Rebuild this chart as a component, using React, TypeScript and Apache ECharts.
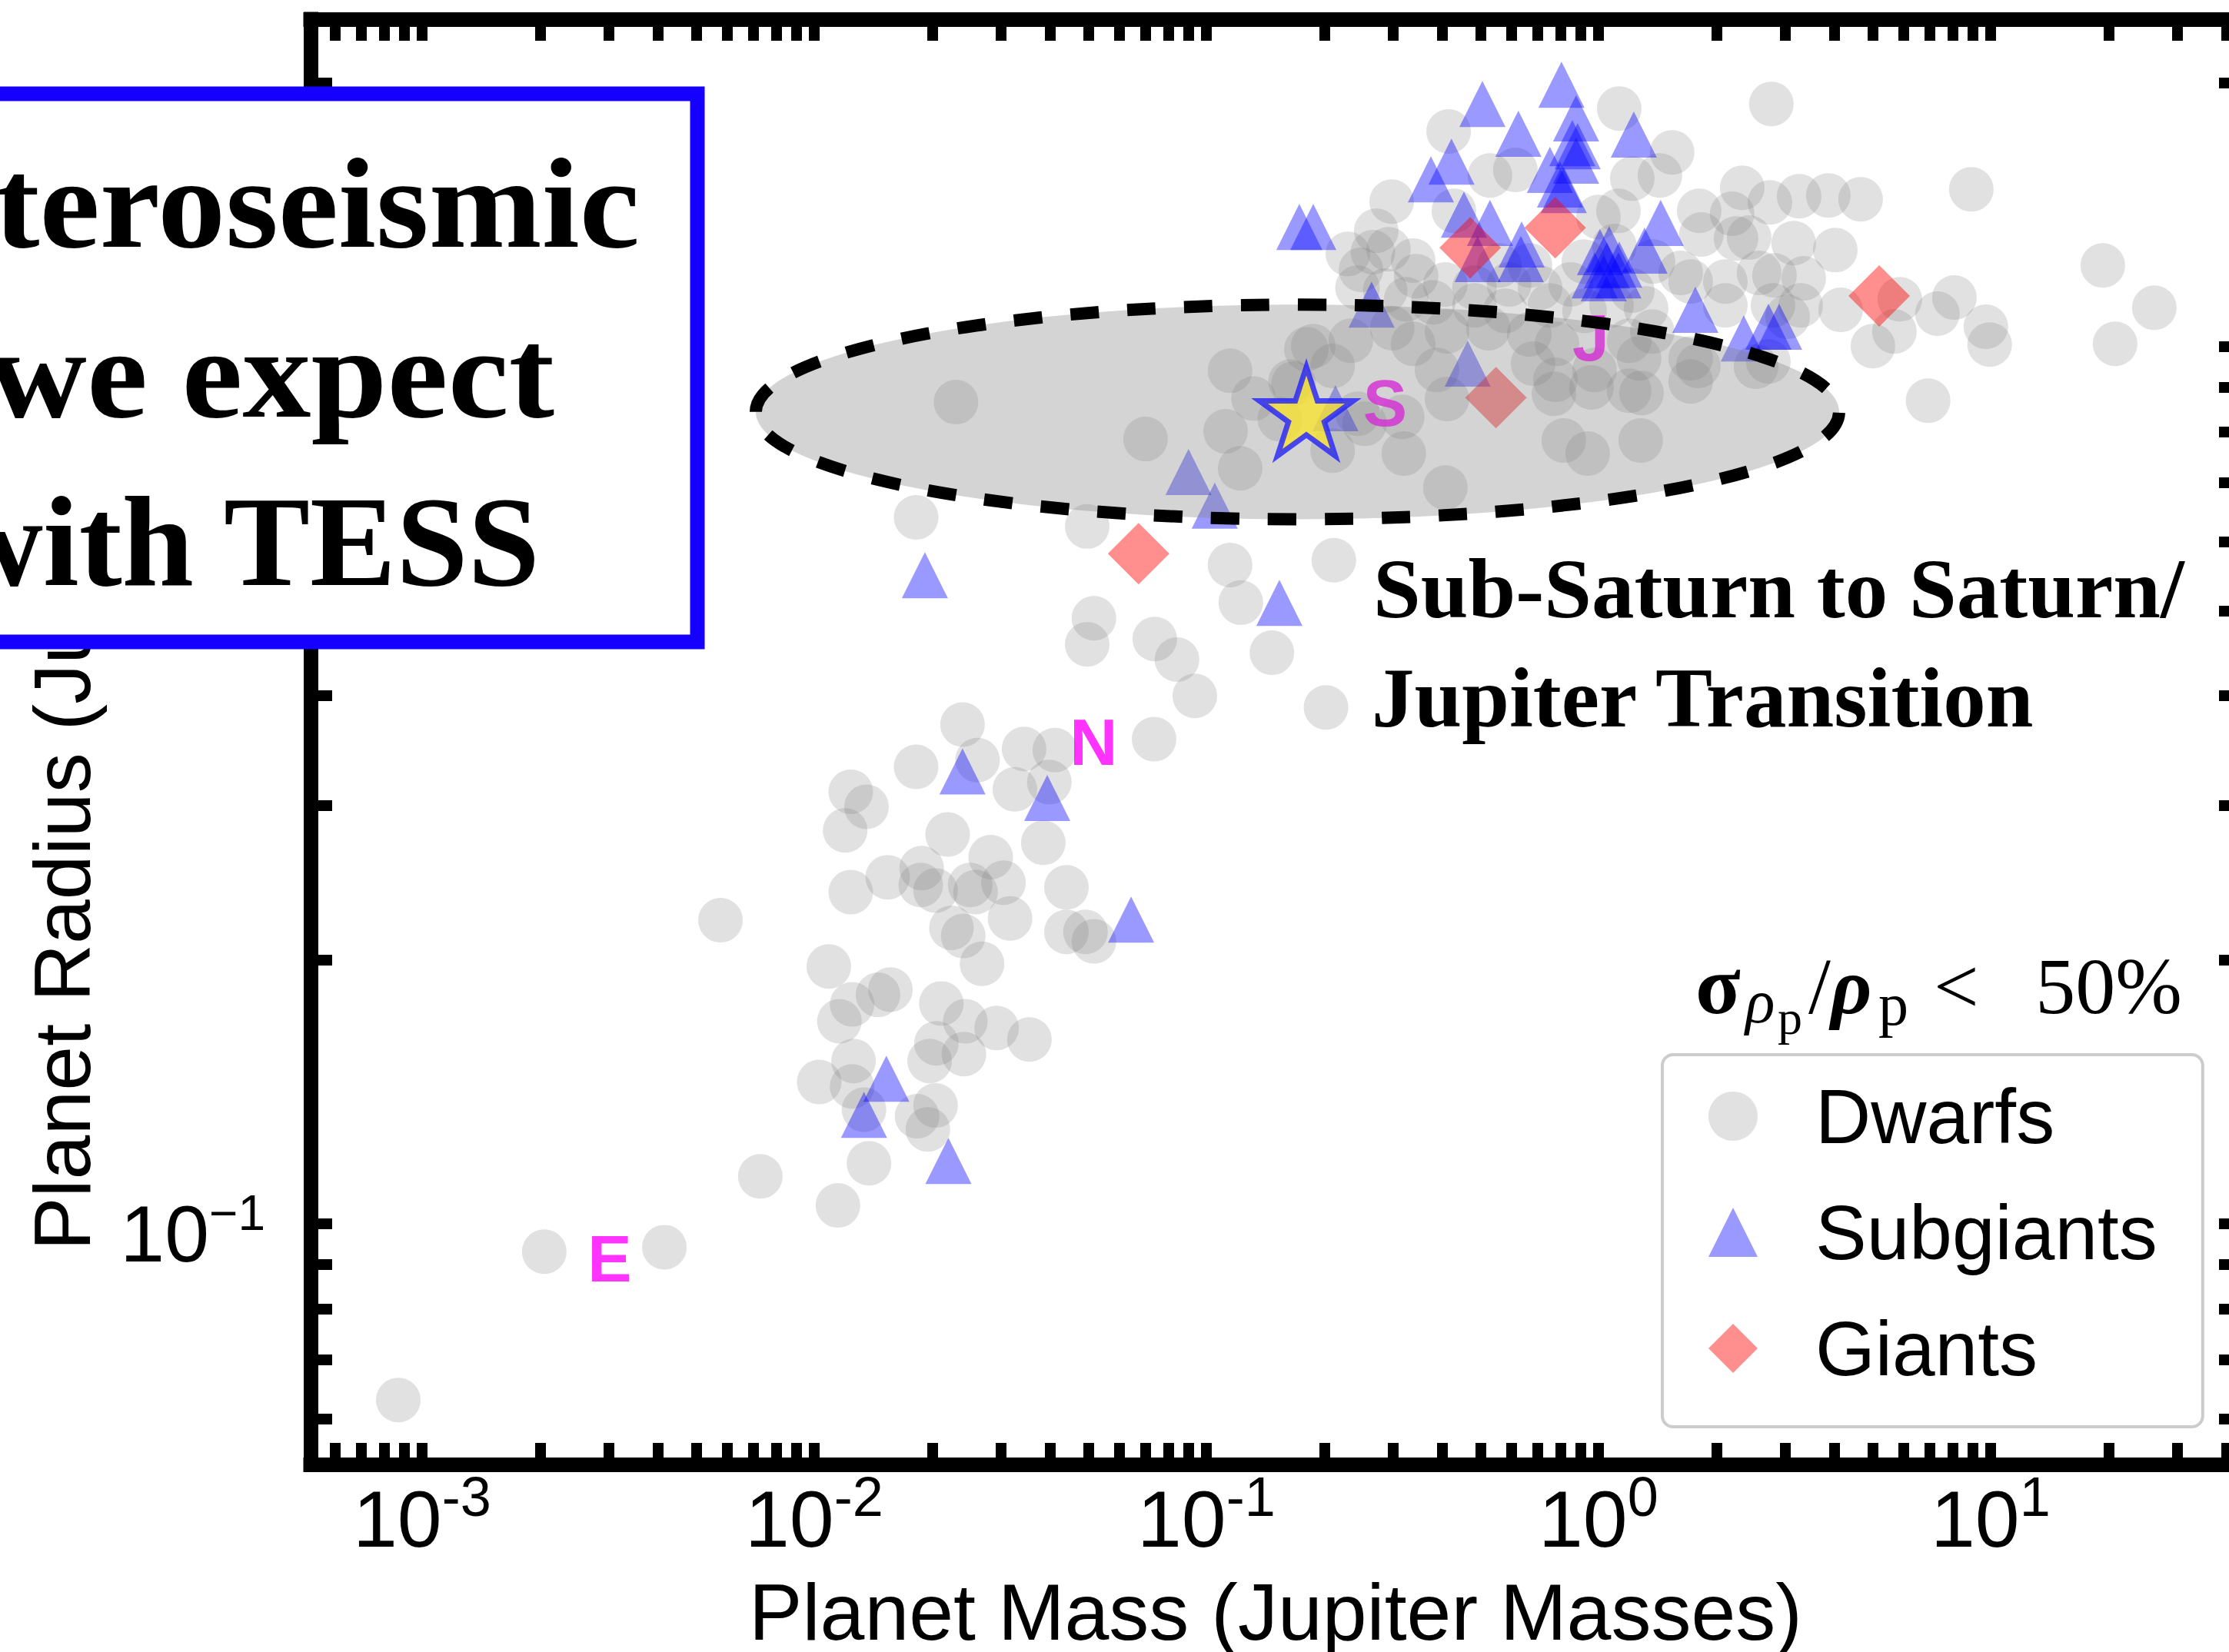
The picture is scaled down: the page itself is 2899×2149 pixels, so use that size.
import React, { useEffect, useRef } from 'react';
import * as echarts from 'echarts';

const W = 2899;
const H = 2149;
const SANS = '"Liberation Sans", Arial, Helvetica, sans-serif';
const SERIF = '"Liberation Serif", "Times New Roman", serif';

// ---- axis ranges (Jupiter masses / Jupiter radii) ----
const xRange = [5.2e-4, 43.4];
const yRange = [0.0532, 2.363];
const xMajorTicks = [0.001, 0.01, 0.1, 1, 10];
const xExpLabels = ['-3', '-2', '-1', '0', '1'];
const yMajorTicks = [0.1, 1];
const yExpLabels = ['\u22121', '0'];

// ---- data: [mass (M_J), radius (R_J)] ----
const dwarfsLow = [
  [0.00087, 0.063], [0.00205, 0.093], [0.00415, 0.0941], [0.00729, 0.1133], [0.0115, 0.105],
  [0.00577, 0.222], [0.0239, 0.371], [0.0182, 0.332], [0.0261, 0.338], [0.0343, 0.348],
  [0.0411, 0.347], [0.0398, 0.319], [0.0325, 0.313], [0.0736, 0.357], [0.0124, 0.311],
  [0.0136, 0.299], [0.012, 0.281], [0.0219, 0.278], [0.0384, 0.272], [0.0282, 0.262],
  [0.0188, 0.2545], [0.0154, 0.2485], [0.0124, 0.239], [0.0187, 0.2435], [0.0204, 0.24],
  [0.025, 0.2435], [0.0258, 0.239], [0.0304, 0.245], [0.044, 0.242], [0.0316, 0.223],
  [0.0224, 0.2176], [0.024, 0.213], [0.0268, 0.198], [0.044, 0.2153], [0.0492, 0.2153],
  [0.0517, 0.21], [0.0109, 0.1966], [0.0125, 0.178], [0.01455, 0.1825], [0.01565, 0.185],
  [0.0116, 0.1703], [0.0211, 0.1784], [0.0243, 0.1703], [0.0292, 0.1673], [0.0354, 0.1623],
  [0.0205, 0.1607], [0.0197, 0.1534], [0.0241, 0.1562], [0.0126, 0.1534], [0.0103, 0.1452],
  [0.0125, 0.1435], [0.0134, 0.135], [0.0204, 0.1365], [0.0183, 0.1327], [0.0195, 0.1282],
  [0.0138, 0.1173],
];
const dwarfsMid = [
  [0.023, 0.865], [0.07, 0.785], [0.115, 0.939], [0.132, 0.873], [0.112, 0.801],
  [0.122, 0.727], [0.164, 0.913], [0.154, 0.827], [0.18, 0.994], [0.0182, 0.639],
  [0.0497, 0.624], [0.115, 0.564], [0.1225, 0.511], [0.0517, 0.4905], [0.0497, 0.458],
  [0.0739, 0.4645], [0.0842, 0.44], [0.0935, 0.4], [0.147, 0.448], [0.202, 0.388],
  [0.2115, 0.571], [0.21, 0.7615], [0.21, 0.951], [0.167, 0.908], [0.2535, 0.817],
];
const dwarfsCluster = [
  [0.415, 1.76], [1.13, 1.869], [2.761, 1.892], [0.297, 1.464], [1.542, 1.666],
  [1.435, 1.568], [1.22, 1.555], [0.614, 1.591], [0.529, 1.568], [2.327, 1.518],
  [2.737, 1.461], [3.249, 1.485], [1.807, 1.429], [1.831, 1.343], [2.193, 1.418],
  [2.423, 1.332], [3.148, 1.313], [1.125, 1.429], [1.0, 1.406], [0.428, 1.429],
  [0.266, 1.282], [0.2915, 1.292], [0.337, 1.254], [0.248, 1.224], [0.243, 1.168],
  [0.286, 1.159], [0.343, 1.204], [0.407, 1.178], [0.483, 1.168], [0.592, 1.178],
  [0.71, 1.168], [0.85, 1.178], [1.22, 1.159], [1.621, 1.214], [1.719, 1.187],
  [2.107, 1.187], [2.107, 1.115], [2.569, 1.214], [2.787, 1.115], [3.338, 1.197],
  [3.279, 1.115], [1.323, 1.106], [1.08, 1.115], [0.922, 1.099], [0.752, 1.115],
  [0.579, 1.099], [0.483, 1.115], [0.379, 1.124], [0.3235, 1.133], [0.669, 1.238],
  [0.918, 1.251], [0.559, 1.238], [1.378, 1.251], [1.099, 1.303], [0.2296, 1.276],
  [0.2713, 1.356], [2.244, 1.329],
];
const dwarfsTransition = [
  [0.1874, 1.002], [0.2337, 1.016], [0.298, 1.05], [0.337, 1.008], [0.411, 1.041],
  [0.524, 1.05], [0.666, 1.033], [0.784, 1.008], [1.198, 1.016], [1.27, 0.97],
  [1.719, 0.97], [2.523, 0.949], [0.3875, 0.941], [0.681, 0.957], [0.978, 0.941],
  [0.96, 0.899], [1.198, 0.891], [1.719, 0.913], [0.77, 0.884], [0.411, 0.872],
  [0.316, 0.832], [0.2433, 0.839], [0.319, 0.7555], [0.816, 0.782], [0.939, 0.7555],
  [1.282, 0.782], [0.407, 0.691], [1.798, 0.951], [1.288, 0.886], [0.777, 0.917],
  [1.372, 1.041],
];
const dwarfsHeavy = [
  [8.93, 1.512], [3.857, 1.488], [4.663, 1.473], [4.018, 1.289], [2.812, 1.206],
  [3.037, 1.082], [4.147, 1.102], [5.87, 1.133], [8.087, 1.138], [7.32, 1.091],
  [5.687, 1.041], [5.012, 1.002], [9.73, 1.054], [9.95, 1.006], [6.93, 0.868],
  [19.33, 1.238], [26.16, 1.108], [20.78, 1.008], [2.713, 0.962],
];
const subgiants = [
  [0.506, 1.892], [0.805, 1.99], [0.625, 1.749], [0.877, 1.821], [1.231, 1.746],
  [0.422, 1.626], [0.374, 1.552], [0.752, 1.591], [0.858, 1.707], [0.877, 1.63],
  [0.798, 1.531], [0.454, 1.415], [0.529, 1.384], [0.637, 1.308], [0.634, 1.259],
  [0.492, 1.259], [1.441, 1.384], [1.009, 1.282], [1.065, 1.292], [1.311, 1.287],
  [0.978, 1.206], [1.125, 1.206], [1.051, 1.238], [0.264, 1.117], [1.767, 1.102],
  [2.348, 1.022], [2.713, 1.054], [2.889, 1.054], [0.464, 0.957], [0.2135, 0.851],
  [0.1727, 1.37], [0.1874, 1.37], [0.885, 1.693], [0.816, 1.509], [1.13, 1.241],
  [1.032, 1.197], [0.0901, 0.72], [0.1051, 0.659], [0.01916, 0.549], [0.1536, 0.5106],
  [0.0239, 0.328], [0.0393, 0.306], [0.0643, 0.2223], [0.01528, 0.1464], [0.0134, 0.1332],
  [0.022, 0.118],
];
const giants = [
  [0.471, 1.297], [0.776, 1.367], [0.548, 0.875], [5.2, 1.143], [0.0672, 0.581],
];
const solarNames = ['E', 'N', 'S', 'J'];
const solarMass = [0.00315, 0.054, 0.299, 1.0];
const solarRadius = [0.0892, 0.346, 0.843, 1.0];
const highlight = [0.18, 0.844];
// region of the highlighted ellipse: [left, right] masses, [bottom, top] radii
const ellipseMass = [0.0071, 4.11];
const ellipseRadius = [0.636, 1.117];

const minorMult = [1, 2, 3, 4, 5, 6, 7, 8, 9];
function logTicks(range: number[]) {
  const out: number[] = [];
  const e0 = Math.floor(Math.log10(range[0]));
  const e1 = Math.ceil(Math.log10(range[1]));
  for (let e = e0; e <= e1; e++) {
    for (const m of minorMult) {
      const v = parseFloat((m * Math.pow(10, e)).toPrecision(6));
      if (v >= range[0] && v <= range[1]) out.push(v);
    }
  }
  return out;
}
const xTickValues = logTicks(xRange);
const yTickValues = logTicks(yRange);

function expFormatter(ticks: number[], labels: string[]) {
  return (v: number) => {
    const i = ticks.findIndex((t) => Math.abs(t - v) / t < 1e-6);
    return i < 0 ? '' : `{b|10}{s|${labels[i]}}`;
  };
}
const richX = {
  b: { fontFamily: SANS, fontSize: 104, lineHeight: 104, color: '#000', verticalAlign: 'top', padding: [13, 0, 0, 0] },
  s: { fontFamily: SANS, fontSize: 72, lineHeight: 72, color: '#000', verticalAlign: 'top' },
};
const richY = {
  b: { fontFamily: SANS, fontSize: 104, lineHeight: 104, color: '#000', verticalAlign: 'top', padding: [13, 0, 22, 0] },
  s: { fontFamily: SANS, fontSize: 64, lineHeight: 64, color: '#000', verticalAlign: 'top', padding: [6, 0, 0, 0] },
};

const SPINE = { show: true, onZero: false, lineStyle: { color: '#000', width: 19, cap: 'square' } };
const tickStyle = (vals: number[]) => ({
  show: true, inside: true, length: 28, customValues: vals,
  lineStyle: { color: '#000', width: 14 },
});

export default function App() {
  const ref = useRef<HTMLDivElement>(null);
  useEffect(() => {
    if (!ref.current) return;
    const chart = echarts.init(ref.current, null, { renderer: 'svg', width: W, height: H });
    const dwarfs = [...dwarfsLow, ...dwarfsMid, ...dwarfsCluster, ...dwarfsTransition, ...dwarfsHeavy];
    const option: any = {
      animation: false,
      backgroundColor: '#ffffff',
      grid: { left: 404, top: 25, width: 2510, height: 1880, containLabel: false, outerBoundsMode: 'none' },
      xAxis: [
        {
          type: 'log', logBase: 10, min: xRange[0], max: xRange[1], position: 'bottom',
          axisLine: SPINE, axisTick: tickStyle(xTickValues),
          axisLabel: { show: true, customValues: xMajorTicks, margin: 6, formatter: expFormatter(xMajorTicks, xExpLabels), rich: richX, fontFamily: SANS, fontSize: 104, color: '#000' },
          splitLine: { show: false }, minorTick: { show: false },
          name: 'Planet Mass (Jupiter Masses)', nameLocation: 'middle', nameGap: 140, nameMoveOverlap: false,
          nameTextStyle: { fontFamily: SANS, fontSize: 104, color: '#000' },
        },
        {
          type: 'log', logBase: 10, min: xRange[0], max: xRange[1], position: 'top',
          axisLine: SPINE, axisTick: tickStyle(xTickValues), axisLabel: { show: false },
          splitLine: { show: false },
        },
      ],
      yAxis: [
        {
          type: 'log', logBase: 10, min: yRange[0], max: yRange[1], position: 'left',
          axisLine: SPINE, axisTick: tickStyle(yTickValues),
          axisLabel: { show: true, customValues: yMajorTicks, margin: 59, formatter: expFormatter(yMajorTicks, yExpLabels), rich: richY, fontFamily: SANS, fontSize: 104, color: '#000' },
          splitLine: { show: false },
          name: 'Planet Radius (Jupiter Radii)', nameLocation: 'middle', nameGap: 271, nameRotate: 90, nameMoveOverlap: false,
          nameTextStyle: { fontFamily: SANS, fontSize: 104, color: '#000' },
        },
        {
          type: 'log', logBase: 10, min: yRange[0], max: yRange[1], position: 'right',
          axisLine: SPINE, axisTick: tickStyle(yTickValues), axisLabel: { show: false },
          splitLine: { show: false },
        },
      ],
      legend: {
        data: ['Dwarfs', 'Subgiants', 'Giants'],
        orient: 'vertical', left: 2162, top: 1372,
        padding: [30, 59, 52, 60], itemGap: 51, itemWidth: 64, itemHeight: 64,
        symbolKeepAspect: true, selectedMode: false,
        backgroundColor: 'rgba(255,255,255,0.8)', borderColor: '#cccccc', borderWidth: 4, borderRadius: 14,
        textStyle: { fontFamily: SANS, fontSize: 100, lineHeight: 100, color: '#000', padding: [0, 0, 0, 70] },
        z: 15,
      },
      series: [
        {
          name: 'Dwarfs', type: 'scatter', data: dwarfs, symbol: 'circle', symbolSize: 58,
          itemStyle: { color: 'rgba(128,128,128,0.3)' }, z: 2, silent: true, emphasis: { disabled: true },
        },
        {
          name: 'Subgiants', type: 'scatter', data: subgiants, symbol: 'triangle', symbolSize: 60,
          itemStyle: { color: 'rgba(0,0,255,0.5)' }, z: 2, silent: true, emphasis: { disabled: true },
        },
        {
          name: 'Giants', type: 'scatter', data: giants, symbol: 'diamond', symbolSize: 80,
          itemStyle: { color: 'rgba(255,0,0,0.55)' }, z: 2, silent: true, emphasis: { disabled: true },
        },
        {
          name: 'solar', type: 'scatter', symbolSize: 1, itemStyle: { color: 'rgba(0,0,0,0)' },
          data: solarNames.map((n, i) => ({ name: n, value: [solarMass[i], solarRadius[i]] })),
          label: { show: true, position: 'inside', formatter: '{b}', color: '#ff00ff', fontSize: 86, fontWeight: 'bold', fontFamily: SANS, offset: [-10, -12] },
          z: 3, silent: true, emphasis: { disabled: true },
        },
        {
          name: 'highlight', type: 'scatter', data: [highlight],
          symbol: 'path://M50,0 L61.2,34.5 L97.6,34.5 L68.2,55.9 L79.4,90.5 L50,69.1 L20.6,90.5 L31.8,55.9 L2.4,34.5 L38.8,34.5 Z',
          symbolKeepAspect: true, symbolSize: 122,
          itemStyle: { color: '#f8e231', borderColor: '#2121ff', borderWidth: 7 },
          z: 10, silent: true, emphasis: { disabled: true },
        },
      ],
    };
    chart.setOption(option);

    const pL = chart.convertToPixel({ seriesIndex: 0 }, [ellipseMass[0], ellipseRadius[0]]) as number[];
    const pR = chart.convertToPixel({ seriesIndex: 0 }, [ellipseMass[1], ellipseRadius[1]]) as number[];
    const cx = (pL[0] + pR[0]) / 2;
    const cy = (pL[1] + pR[1]) / 2;
    const rx = Math.abs(pR[0] - pL[0]) / 2;
    const ry = Math.abs(pR[1] - pL[1]) / 2;

    const txt = (id: string, text: string, x: number, baseline: number, size: number, opts: any = {}) => {
      const family = opts.family || SERIF;
      const off = family === SANS ? 0.3467 : 0.3375;
      return {
        type: 'text', id, x, y: baseline - off * size, z: opts.z || 20, scaleX: opts.scaleX || 1,
        style: {
          text, fontFamily: family, fontSize: size, fontWeight: opts.weight || 'normal',
          fontStyle: opts.style || 'normal', fill: '#000',
          align: opts.align || 'left', verticalAlign: 'middle',
          textAlign: opts.align || 'left', textVerticalAlign: 'middle',
        },
      };
    };

    chart.setOption({
      graphic: [
        {
          type: 'ellipse', id: 'ellipse', z: 5, silent: true,
          shape: { cx, cy, rx, ry },
          style: { fill: 'rgba(128,128,128,0.34)', stroke: '#000', lineWidth: 16, lineDash: [37, 37] },
        },
        txt('ss1', 'Sub-Saturn to Saturn/', 1786, 803, 111, { weight: 'bold' }),
        txt('ss2', 'Jupiter Transition', 1784, 945, 111, { weight: 'bold' }),
        txt('sig1', '\u03c3', 2205, 1318, 108, { weight: 'bold' }),
        txt('sig2', '\u03c1', 2270, 1330, 80, { style: 'italic' }),
        txt('sig3', 'p', 2312, 1345, 64),
        txt('sig4', '/', 2352, 1318, 104),
        txt('sig5', '\u03c1', 2381, 1318, 104, { style: 'italic', weight: 'bold' }),
        txt('sig6', 'p', 2443, 1333, 78),
        txt('sig7', '<', 2515, 1318, 104),
        txt('sig8', '50%', 2838, 1318, 104, { align: 'right' }),
        {
          type: 'rect', id: 'box', z: 30, silent: true,
          shape: { x: -60, y: 122, width: 967, height: 713 },
          style: { fill: '#ffffff', stroke: '#1500ff', lineWidth: 19 },
        },
        txt('bt1', 'Asteroseismic', 832, 321, 168, { weight: 'bold', align: 'right', z: 31, scaleX: 1.05 }),
        txt('bt2', 'planets we expect', 721, 542, 168, { weight: 'bold', align: 'right', z: 31, scaleX: 1.06 }),
        txt('bt3', 'with TESS', 702, 761, 168, { weight: 'bold', align: 'right', z: 31 }),
      ],
    });
    return () => chart.dispose();
  }, []);
  return <div ref={ref} style={{ position: 'absolute', left: 0, top: 0, width: W, height: H, background: '#fff' }} />;
}
